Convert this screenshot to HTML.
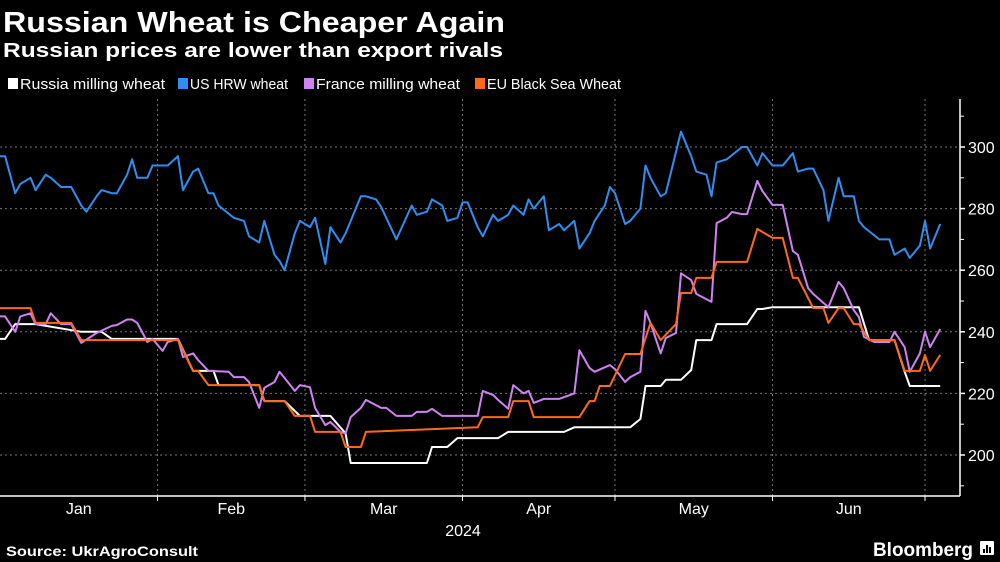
<!DOCTYPE html>
<html><head><meta charset="utf-8"><style>
html,body{margin:0;padding:0;background:#000;}
svg{display:block;font-family:"Liberation Sans",sans-serif;}
</style></head><body>
<svg id="chart" width="1000" height="562" viewBox="0 0 1000 562">
<rect width="1000" height="562" fill="#000"/>
<text x="3" y="32" fill="#fff" font-size="29" font-weight="bold" textLength="502" lengthAdjust="spacingAndGlyphs">Russian Wheat is Cheaper Again</text>
<text x="3" y="57" fill="#fff" font-size="20" font-weight="bold" textLength="500" lengthAdjust="spacingAndGlyphs">Russian prices are lower than export rivals</text>
<g id="legend"></g>
<g id="grid"></g>
<g id="series"></g>
<g id="axes"></g>
<text x="6" y="556" fill="#fff" font-size="14" font-weight="bold" textLength="192" lengthAdjust="spacingAndGlyphs">Source: UkrAgroConsult</text>
<text x="873" y="556" fill="#fff" font-size="19" font-weight="bold" textLength="100" lengthAdjust="spacingAndGlyphs">Bloomberg</text>
<g><rect x="980" y="541" width="14" height="14" fill="#fff" rx="1"/><rect x="983" y="549" width="2" height="4" fill="#000"/><rect x="986" y="545" width="2" height="8" fill="#000"/><rect x="989" y="547" width="2" height="6" fill="#000"/></g>
</svg>
<script>
const seriesNames = ["Russia milling wheat","US HRW wheat","France milling wheat","EU Black Sea Wheat"];
const seriesColors = ["#ffffff","#2f8ff0","#cf82f2","#ff6a1a"];
const yTicks = [200,220,240,260,280,300];
const yMinorTicks = [190,210,230,250,270,290,310];
const monthLabels = ["Jan","Feb","Mar","Apr","May","Jun"];
const monthStartDays = [0,31,60,91,121,152,182];
const yearLabel = "2024";

const russiaDays = [0,1,3,7,16,20,22,35,38,42,43,51,52,56,59,65,68,69,84,85,88,90,94,98,100,111,113,124,126,127,130,131,134,136,137,140,141,147,149,150,152,169,171,176,178,179,185];
const russiaVals = [237.7,237.7,242.5,242.5,240,240,237.7,237.7,227.3,227.3,222.7,222.7,217.5,217.5,212.7,212.7,207,197.4,197.4,202.6,202.6,205.5,205.5,205.5,207.5,207.5,209,209,211.7,222.4,222.4,224.4,224.4,227.6,237.3,237.3,242.5,242.5,247.4,247.4,248,248,237.3,237.3,227,222.4,222.4];

const usDays = [0,1,3,4,6,7,9,10,12,14,16,17,19,20,22,23,25,26,27,29,30,33,35,36,38,39,41,42,43,46,48,49,51,52,54,55,56,58,59,61,62,64,65,67,68,71,72,74,75,78,81,82,84,85,87,88,90,91,92,94,95,97,98,100,101,103,104,105,107,108,110,111,113,114,116,117,119,120,121,123,124,126,127,128,130,131,134,136,137,139,140,141,143,146,147,149,150,152,154,156,157,159,160,162,163,165,166,168,169,170,173,175,176,178,179,181,182,183,185];
const usVals = [297,297,285,288,290,286,291,290,287,287,281,279,284,286,285,285,291,296,290,290,294,294,297,286,292,293,285,285,281,277,276,271,269,276,265,263,260,272,276,274,277,262,274,269,272,284,284,283,280.5,270,281,278,279,283,281,276,277,282,282,274,271,278,276,278,281,278,283,280,284,273,275,273,276,267,272,276,281,287,285,275,276,280,294,290,284,285,305,297,292,291,284,295,296,300,300,294,298,294,294,298,292,293,293,286,276,290,284,284,276,274,270,270,265,267,264,268,276,267,275];

const franceDays = [0,1,3,4,6,7,9,10,12,14,16,19,22,23,25,26,27,29,30,32,33,35,36,38,39,41,45,46,48,49,51,52,54,55,56,58,59,61,62,64,65,67,68,69,71,72,75,76,78,81,82,84,85,87,94,95,97,98,100,101,103,104,105,107,110,113,114,116,117,120,121,123,124,126,127,128,130,131,133,134,136,137,140,141,143,144,146,147,149,150,152,154,156,157,159,160,163,165,166,168,169,170,172,175,176,178,179,181,182,183,185];
const franceVals = [245,245,240,245,246,242.5,242.5,246,242.5,242.5,236.4,239.6,241.9,242.2,244,244,242.9,236.7,237.7,233.8,236.7,237.7,231.8,233,230.8,227.3,227,225.3,225.3,223.7,215.3,221.8,223.7,227,225,220.8,222.7,222,215.3,209.7,210.7,207.5,207,212.3,215.3,217.9,215.3,215.3,212.7,212.7,214,214,215,212.7,212.7,220.8,219.5,217.9,215,222.7,220,220.8,216.9,218.2,218.2,220,234,228.2,227,229.2,227.9,223.7,225.3,227,246.8,242.9,233,238,239.6,259,256.8,252.3,249.7,275.3,277,278.9,278.2,278.2,289,285.7,281.2,281.2,266.2,265,254.2,252.3,248,256.2,254.2,247,244.8,238.3,236.7,236.7,240,235,227,233,240,235,240.9];

const euDays = [0,6,7,14,16,35,38,39,41,51,52,56,58,61,62,67,68,71,72,94,95,100,101,104,105,114,116,117,118,120,123,126,128,130,133,134,136,137,140,141,147,149,150,152,154,156,157,160,162,163,165,166,168,169,171,176,178,181,182,183,185];
const euVals = [247.7,247.7,242.9,242.9,237.3,237.3,227.3,227.3,222.7,222.7,217.5,217.5,212.7,212.7,207.5,207.5,202.6,202.6,207.5,209,212.3,212.3,217.5,217.5,212.3,212.3,217.5,217.5,222.4,222.4,232.8,232.8,242.9,237.3,242.5,252.6,252.6,257.5,257.5,262.7,262.7,273.4,272.4,270.5,270.5,257.5,257.5,247.7,247.7,242.9,247.7,247.7,242.5,242.5,237.3,237.3,227.3,227.3,232.5,227.3,232.5];

const NS="http://www.w3.org/2000/svg";
const PL=0, PR=960, PT=99, PB=496;
function xScale(d){return PL + d*(925/182);}
function yScale(v){return 455 - (v-200)*3.08;}
function mk(tag, attrs, parent){const e=document.createElementNS(NS,tag);for(const k in attrs)e.setAttribute(k,attrs[k]);parent.appendChild(e);return e;}

const grid=document.getElementById('grid'), axes=document.getElementById('axes'), ser=document.getElementById('series'), leg=document.getElementById('legend');

yTicks.forEach(v=>{
  const l=mk('line',{x1:PL,x2:PR,y1:yScale(v),y2:yScale(v),stroke:'#777','stroke-width':1,'stroke-dasharray':'2,3'},grid);
  
  
  const t=mk('line',{x1:PR,x2:PR+5,y1:yScale(v),y2:yScale(v),stroke:'#fff','stroke-width':1.5},axes);
  
  
  const tx=mk('text',{x:PR+8,y:yScale(v)+6,fill:'#fff','font-size':16},axes);
  tx.textContent=v;
  
  
});
yMinorTicks.forEach(v=>{
  const t=mk('line',{x1:PR,x2:PR+4,y1:yScale(v),y2:yScale(v),stroke:'#fff','stroke-width':1},axes);
  
  
});
monthStartDays.forEach((d,i)=>{
  if(i===0) return;
  const x=xScale(d);
  const g=mk('line',{x1:x,x2:x,y1:PT,y2:PB,stroke:'#777','stroke-width':1,'stroke-dasharray':'2,3'},grid);
  
  
  const t=mk('line',{x1:x,x2:x,y1:PB,y2:PB+5,stroke:'#fff','stroke-width':1},axes);
  
  
});
monthLabels.forEach((m,i)=>{
  const x=(xScale(monthStartDays[i])+xScale(monthStartDays[i+1]))/2;
  const t=mk('text',{x:x,y:514,fill:'#fff','font-size':16,'text-anchor':'middle'},axes);
  t.textContent=m;
  
  
});
const yr=mk('text',{x:463,y:536,fill:'#fff','font-size':16,'text-anchor':'middle'},axes);
yr.textContent=yearLabel;


const ax1=mk('line',{x1:PL,x2:PR,y1:PB,y2:PB,stroke:'#fff','stroke-width':1.5},axes);


const ax2=mk('line',{x1:PR,x2:PR,y1:PT,y2:PB,stroke:'#fff','stroke-width':1.5},axes);



const allDays=[russiaDays,usDays,franceDays,euDays];
const allVals=[russiaVals,usVals,franceVals,euVals];
const drawOrder=[1,0,2,3];
const lineNames=['russia-line','us-hrw-line','france-line','eu-black-sea-line'];
drawOrder.forEach(i=>{
  const pts=allDays[i].map((d,j)=>xScale(d).toFixed(1)+','+yScale(allVals[i][j]).toFixed(1)).join(' ');
  const p=mk('polyline',{points:pts,fill:'none',stroke:seriesColors[i],'stroke-width':2,'stroke-linejoin':'round'},ser);
  
  
});

const legX=[8,178,304,475], legW=[145,98,144,134];
seriesNames.forEach((n,i)=>{
  const r=mk('rect',{x:legX[i],y:78,width:10,height:11,fill:seriesColors[i]},leg);
  
  
  const t=mk('text',{x:legX[i]+12,y:89,fill:'#fff','font-size':15,textLength:legW[i],lengthAdjust:'spacingAndGlyphs'},leg);
  t.textContent=n;
  
  
});
</script>
</body></html>
